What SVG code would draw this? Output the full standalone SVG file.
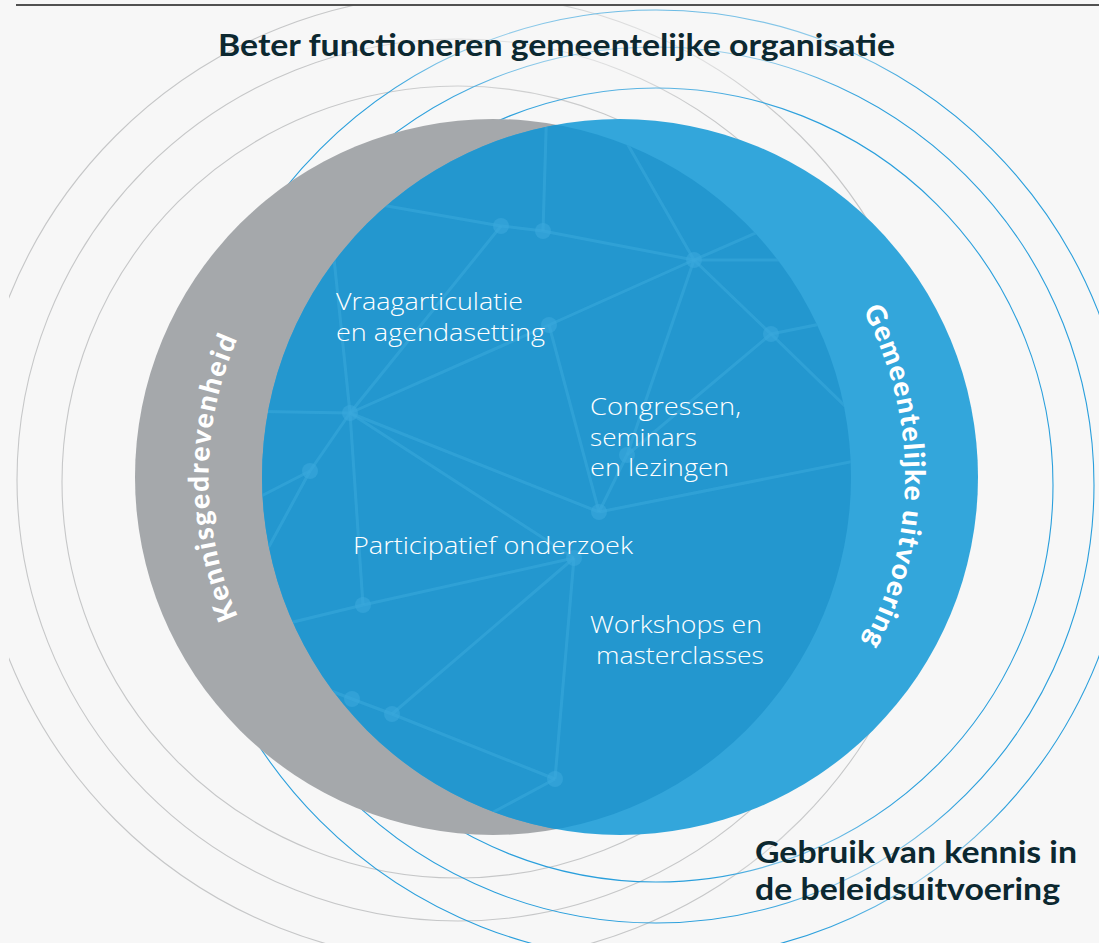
<svg xmlns="http://www.w3.org/2000/svg" width="1099" height="943" viewBox="0 0 1099 943">
<style>
.ringG{fill:none;stroke:#c6c7c8;stroke-width:1.1}
.ringB{fill:none;stroke:#2a9fdc;stroke-width:1.1}
.net line{stroke:#3aa9dc;stroke-width:3;stroke-opacity:0.55}
.net circle{fill:#3aa9dc;fill-opacity:0.6}
.title{font-family:Lato,"Open Sans","Liberation Sans",sans-serif;font-weight:700;font-size:29.5px;fill:#0c2830}
.inner{font-family:"Open Sans",Lato,"Liberation Sans",sans-serif;font-weight:300;font-size:24px;fill:#ffffff}
.arc{font-family:Lato,"Liberation Sans",sans-serif;font-weight:900;font-style:normal;fill:#ffffff}
</style>
<defs>
<clipPath id="greyClip"><circle cx="493" cy="477" r="358"/></clipPath>
<clipPath id="blueClip"><circle cx="620" cy="477" r="358"/></clipPath>
<clipPath id="pageClip"><rect x="9" y="6" width="1090" height="937"/></clipPath>
<filter id="soft" x="-50%" y="-50%" width="200%" height="200%"><feGaussianBlur stdDeviation="22"/></filter>
<mask id="fadeMask" maskUnits="userSpaceOnUse" x="0" y="0" width="1099" height="943">
<rect x="0" y="0" width="1099" height="943" fill="#ffffff"/>
<ellipse cx="640" cy="45" rx="290" ry="38" fill="#666666" filter="url(#soft)"/>
<ellipse cx="915" cy="868" rx="175" ry="34" fill="#666666" filter="url(#soft)"/>
</mask>
<path id="leftArc" d="M333.8,742.4 A344,344 0 0 1 333.8,211.6"/>
<path id="rightArc" d="M780.5,210 A348.5,348.5 0 0 1 780.5,744"/>
</defs>
<rect x="0" y="0" width="1099" height="943" fill="#f7f7f7"/>
<line x1="16" y1="5" x2="1099" y2="5" stroke="#1a1a1a" stroke-width="1.6"/>

<g id="rings" clip-path="url(#pageClip)">
<g mask="url(#fadeMask)">
<circle class="ringG" cx="458" cy="482" r="396"/>
<circle class="ringG" cx="458" cy="480" r="441"/>
<circle class="ringG" cx="458" cy="478" r="484"/>
<circle class="ringB" cx="656" cy="485" r="397"/>
<circle class="ringB" cx="656" cy="485" r="438"/>
<circle class="ringB" cx="656" cy="485" r="475"/>
</g>
</g>

<g id="kennisgedrevenheid">
<circle cx="493" cy="477" r="358" fill="#a5a8ab"/>
</g>
<g id="gemeentelijke-uitvoering">
<circle cx="620" cy="477" r="358" fill="#33a6db"/>
</g>
<g id="overlap">
<circle cx="620" cy="477" r="358" fill="#2397cf" clip-path="url(#greyClip)"/>
</g>

<g clip-path="url(#greyClip)">
<g class="net" id="connectors" clip-path="url(#blueClip)">
<line x1="370" y1="203" x2="501" y2="226"/>
<line x1="501" y1="226" x2="543" y2="231"/>
<line x1="543" y1="231" x2="694" y2="260"/>
<line x1="543" y1="231" x2="547" y2="100"/>
<line x1="501" y1="226" x2="350" y2="413"/>
<line x1="694" y1="260" x2="608" y2="110"/>
<line x1="694" y1="260" x2="820" y2="205"/>
<line x1="694" y1="260" x2="830" y2="260"/>
<line x1="694" y1="260" x2="771" y2="334"/>
<line x1="694" y1="260" x2="627" y2="455"/>
<line x1="627" y1="455" x2="599" y2="512"/>
<line x1="771" y1="334" x2="880" y2="312"/>
<line x1="771" y1="334" x2="880" y2="440"/>
<line x1="771" y1="334" x2="627" y2="455"/>
<line x1="549" y1="325" x2="350" y2="413"/>
<line x1="549" y1="325" x2="694" y2="260"/>
<line x1="549" y1="325" x2="599" y2="512"/>
<line x1="350" y1="413" x2="240" y2="411"/>
<line x1="350" y1="413" x2="310" y2="471"/>
<line x1="350" y1="413" x2="599" y2="512"/>
<line x1="350" y1="413" x2="574" y2="558"/>
<line x1="350" y1="413" x2="363" y2="605"/>
<line x1="350" y1="413" x2="330" y2="220"/>
<line x1="310" y1="471" x2="230" y2="512"/>
<line x1="310" y1="471" x2="240" y2="600"/>
<line x1="599" y1="512" x2="900" y2="452"/>
<line x1="574" y1="558" x2="363" y2="605"/>
<line x1="574" y1="558" x2="392" y2="714"/>
<line x1="574" y1="558" x2="555" y2="779"/>
<line x1="363" y1="605" x2="240" y2="635"/>
<line x1="352" y1="699" x2="392" y2="714"/>
<line x1="352" y1="699" x2="290" y2="675"/>
<line x1="392" y1="714" x2="555" y2="779"/>
<line x1="555" y1="779" x2="460" y2="830"/>
<circle cx="501" cy="226" r="8"/>
<circle cx="543" cy="231" r="8"/>
<circle cx="694" cy="260" r="8"/>
<circle cx="771" cy="334" r="8"/>
<circle cx="549" cy="325" r="8"/>
<circle cx="350" cy="413" r="8"/>
<circle cx="310" cy="471" r="8"/>
<circle cx="627" cy="455" r="8"/>
<circle cx="599" cy="512" r="8"/>
<circle cx="574" cy="558" r="8"/>
<circle cx="363" cy="605" r="8"/>
<circle cx="352" cy="699" r="8"/>
<circle cx="392" cy="714" r="8"/>
<circle cx="555" cy="779" r="8"/>
</g>
</g>

<g id="labels">
<text class="title" x="218" y="56" textLength="677" lengthAdjust="spacingAndGlyphs">Beter functioneren gemeentelijke organisatie</text>
<text class="title" x="755" y="863" textLength="322" lengthAdjust="spacingAndGlyphs">Gebruik van kennis in</text>
<text class="title" x="755" y="900" textLength="305" lengthAdjust="spacingAndGlyphs">de beleidsuitvoering</text>
</g>

<g id="node-vraagarticulatie">
<text class="inner" x="336" y="310" textLength="187" lengthAdjust="spacingAndGlyphs">Vraagarticulatie</text>
<text class="inner" x="336" y="341" textLength="209" lengthAdjust="spacingAndGlyphs">en agendasetting</text>
</g>
<g id="node-congressen">
<text class="inner" x="590" y="415" textLength="151" lengthAdjust="spacingAndGlyphs">Congressen,</text>
<text class="inner" x="590" y="446" textLength="107" lengthAdjust="spacingAndGlyphs">seminars</text>
<text class="inner" x="590" y="476" textLength="139" lengthAdjust="spacingAndGlyphs">en lezingen</text>
</g>
<g id="node-participatief">
<text class="inner" x="353" y="554" textLength="280" lengthAdjust="spacingAndGlyphs">Participatief onderzoek</text>
</g>
<g id="node-workshops">
<text class="inner" x="590" y="633" textLength="172" lengthAdjust="spacingAndGlyphs">Workshops en</text>
<text class="inner" x="596" y="664" textLength="168" lengthAdjust="spacingAndGlyphs">masterclasses</text>
</g>

<g id="arc-labels">
<text class="arc" font-size="28" letter-spacing="1.8"><textPath href="#leftArc" startOffset="50%" text-anchor="middle">Kennisgedrevenheid</textPath></text>
<text class="arc" font-size="28" letter-spacing="1.3"><textPath href="#rightArc" startOffset="50%" text-anchor="middle">Gemeentelijke uitvoering</textPath></text>
</g>
</svg>
